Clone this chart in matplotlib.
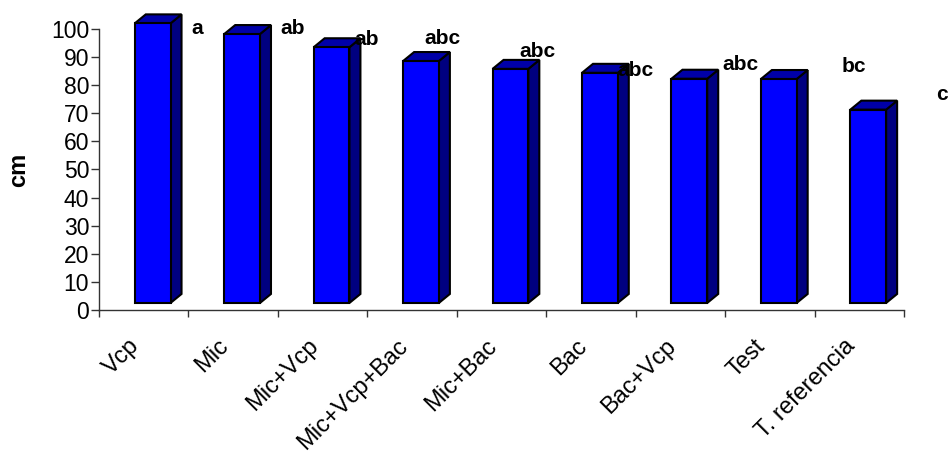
import matplotlib
matplotlib.use("Agg")
import matplotlib.pyplot as plt
from matplotlib.patches import Rectangle, Polygon

plt.rcParams["font.family"] = ["Liberation Sans", "DejaVu Sans"]

# ---------------- DATA ----------------
treatments = ["Vcp", "Mic", "Mic+Vcp", "Mic+Vcp+Bac", "Mic+Bac",
              "Bac", "Bac+Vcp", "Test", "T. referencia"]
height_cm = [99.5, 95.7, 91.0, 86.1, 83.3, 81.9, 79.8, 79.7, 68.8]
groups = ["a", "ab", "ab", "abc", "abc", "abc", "abc", "bc", "c"]

# where each letter sits, in pixels from the top of its bar
letter_offsets = [(48, -5), (47, 6), (32, 8), (12, 23), (18, 17),
                  (26, 2), (42, 14), (72, 13), (77, 15)]

# ---------------- STYLE ----------------
FRONT = "#0000FF"
SIDE = "#000080"
TOP = "#0000A8"
FLOOR = 2.5        # bars stand slightly above the axis line
BAR_LEFT = 0.40
BAR_W = 0.40
DEPTH_X = 0.123
DEPTH_Y = 3.2

fig = plt.figure(figsize=(9.48, 4.53), dpi=100)
ax = fig.add_axes([0.1044, 0.3157, 0.8492, 0.6203])
ax.set_xlim(0, len(treatments))
ax.set_ylim(0, 100)

for i, v in enumerate(height_cm):
    x0 = i + BAR_LEFT
    x1 = x0 + BAR_W
    b = FLOOR
    t = FLOOR + v
    side = Polygon([(x1, b), (x1 + DEPTH_X, b + DEPTH_Y),
                    (x1 + DEPTH_X, t + DEPTH_Y), (x1, t)],
                   closed=True, fc=SIDE, ec="black", lw=1.5,
                   joinstyle="miter", clip_on=False, zorder=3)
    top = Polygon([(x0, t), (x0 + DEPTH_X, t + DEPTH_Y),
                   (x1 + DEPTH_X, t + DEPTH_Y), (x1, t)],
                  closed=True, fc=TOP, ec="black", lw=1.5,
                  joinstyle="miter", clip_on=False, zorder=3)
    front = Rectangle((x0, b), BAR_W, v, fc=FRONT, ec="black", lw=1.5,
                      joinstyle="miter", clip_on=False, zorder=4)
    ax.add_patch(side)
    ax.add_patch(top)
    ax.add_patch(front)

    dx, dy = letter_offsets[i]
    ax.annotate(groups[i], xy=(i + 0.5, t), xytext=(dx, dy),
                textcoords="offset pixels", ha="left", va="center",
                fontsize=15, fontweight="bold", annotation_clip=False,
                zorder=5)

# ---------------- AXES ----------------
for s in ["top", "right"]:
    ax.spines[s].set_visible(False)
for s in ["left", "bottom"]:
    ax.spines[s].set_color("#333333")
    ax.spines[s].set_linewidth(1.0)

ax.set_yticks(range(0, 101, 10))
ax.tick_params(axis="y", direction="out", length=6, width=1,
               color="#333333", pad=1, labelsize=16.5)

ax.set_xticks(range(0, len(treatments) + 1))
ax.set_xticklabels([])
ax.set_xticks([i + 0.5 for i in range(len(treatments))], minor=True)
ax.set_xticklabels(treatments, minor=True, rotation=45,
                   ha="right", va="top", fontsize=17)
ax.tick_params(axis="x", which="major", direction="out", length=5,
               width=1, color="#333333")
ax.tick_params(axis="x", which="minor", length=0, pad=18)

ax.set_ylabel("cm", fontsize=17, fontweight="bold", labelpad=15)

fig.savefig("out.png", dpi=100)
